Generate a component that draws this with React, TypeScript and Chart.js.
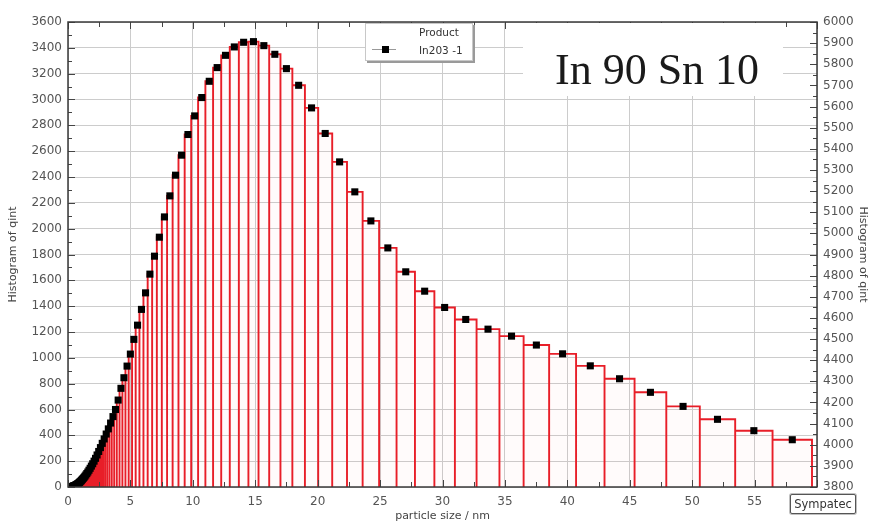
import React, { useEffect, useRef } from 'react';
import { Chart, registerables } from 'chart.js';

Chart.register(...registerables);

// Bin edges (nm) (geometric spacing)
const binEdges: number[] = [
  0.302, 0.319, 0.336, 0.355, 0.375, 0.396, 0.419, 0.442, 0.467, 0.493,
  0.521, 0.550, 0.580, 0.613, 0.647, 0.684, 0.722, 0.762, 0.805, 0.850,
  0.898, 0.948, 1.001, 1.057, 1.116, 1.179, 1.245, 1.314, 1.388, 1.466,
  1.548, 1.634, 1.726, 1.822, 1.924, 2.032, 2.146, 2.266, 2.393, 2.527,
  2.669, 2.818, 2.976, 3.143, 3.319, 3.505, 3.701, 3.908, 4.127, 4.358,
  4.602, 4.860, 5.132, 5.420, 5.723, 6.044, 6.382, 6.740, 7.117, 7.516,
  7.937, 8.381, 8.850, 9.346, 9.869, 10.422, 11.006, 11.622, 12.273, 12.960,
  13.686, 14.453, 15.262, 16.117, 17.020, 17.973, 18.979, 20.042, 21.165, 22.350,
  23.602, 24.923, 26.319, 27.793, 29.350, 30.993, 32.729, 34.562, 36.498, 38.542,
  40.700, 42.979, 45.386, 47.928, 50.612, 53.446, 56.439, 59.6,
];

// Histogram of q_int per bin (left axis)
const binValues: number[] = [
  2, 3, 3, 4, 4, 5, 6, 7, 8, 9,
  10, 11, 13, 15, 17, 19, 22, 25, 28, 32,
  36, 41, 46, 52, 59, 66, 74, 83, 93, 104,
  116, 130, 145, 162, 180, 200, 222, 248, 275, 305,
  338, 372, 410, 450, 495, 545, 600,
  673, 764, 846, 936, 1029, 1143, 1253, 1375, 1503, 1648,
  1787, 1934, 2091, 2254, 2414, 2569, 2729, 2873, 3015, 3141,
  3247, 3342, 3407, 3443, 3448, 3417, 3350, 3239, 3110, 2935,
  2737, 2517, 2285, 2060, 1851, 1666, 1516, 1390, 1297, 1222,
  1168, 1099, 1031, 938, 838, 733, 624, 524, 436, 366,
];

const xMin = 0, xMax = 60, xStep = 5, xMinorStep = 2.5;
const yMin = 0, yMax = 3600, yStep = 200, yMinorStep = 100;
const y2Min = 3800, y2Max = 6000, y2Step = 100, y2MinorStep = 50;

const seriesName = 'In203 -1';
const legendTitle = 'Product';
const annotationText = 'In 90 Sn 10';
const xTitle = 'particle size / nm';
const yTitle = 'Histogram of qint';

const tickFont = { family: 'DejaVu Sans', size: 12 };
const titleFont = { family: 'DejaVu Sans', size: 11 };
const plain = (v: any) => String(v);

const framePlugin = {
  id: 'frameTicks',
  afterDatasetsDraw(chart: any) {
    const { ctx, chartArea: a, scales } = chart;
    const xs = scales.x, yl = scales.y, yr = scales.y2;
    ctx.save();
    ctx.strokeStyle = '#444';
    ctx.lineWidth = 1;
    ctx.beginPath();
    for (let v = yMin; v <= yMax + 1e-6; v += yMinorStep) {
      const p = Math.round(yl.getPixelForValue(v)) + 0.5;
      const L = Math.abs(v % yStep) < 1e-6 ? 7 : 4;
      ctx.moveTo(a.left, p); ctx.lineTo(a.left + L, p);
    }
    for (let v = y2Min; v <= y2Max + 1e-6; v += y2MinorStep) {
      const p = Math.round(yr.getPixelForValue(v)) + 0.5;
      const L = Math.abs(v % y2Step) < 1e-6 ? 7 : 4;
      ctx.moveTo(a.right, p); ctx.lineTo(a.right - L, p);
    }
    for (let v = xMin; v <= xMax + 1e-6; v += xMinorStep) {
      const p = Math.round(xs.getPixelForValue(v)) + 0.5;
      const L = Math.abs(v % xStep) < 1e-6 ? 7 : 5;
      ctx.moveTo(p, a.bottom); ctx.lineTo(p, a.bottom - L);
      ctx.moveTo(p, a.top); ctx.lineTo(p, a.top + L);
    }
    ctx.stroke();
    ctx.lineWidth = 1.5;
    ctx.strokeStyle = '#3a3a3a';
    ctx.strokeRect(a.left, a.top, a.right - a.left, a.bottom - a.top);
    ctx.restore();
  },
};

export default function App() {
  const canvasRef = useRef<HTMLCanvasElement | null>(null);

  useEffect(() => {
    document.body.style.margin = '0';
    const canvas = canvasRef.current;
    if (!canvas) return;

    const n = Math.min(binValues.length, binEdges.length - 1);
    const outline: { x: number; y: number }[] = [];
    const points: { x: number; y: number }[] = [];
    for (let i = 0; i < n; i++) {
      const l = binEdges[i], r = binEdges[i + 1], v = binValues[i];
      outline.push({ x: l, y: 0 }, { x: l, y: v }, { x: r, y: v }, { x: r, y: 0 });
      points.push({ x: (l + r) / 2, y: v });
    }

    const chart = new Chart(canvas, {
      type: 'scatter',
      data: {
        datasets: [
          {
            label: seriesName,
            data: points,
            pointStyle: 'rect',
            pointRadius: 5,
            pointBackgroundColor: '#000',
            pointBorderColor: '#000',
            pointBorderWidth: 0,
            showLine: false,
            order: 1,
            xAxisID: 'x',
            yAxisID: 'y',
          } as any,
          {
            label: 'bars',
            data: outline,
            showLine: true,
            borderColor: 'rgb(232,30,40)',
            borderWidth: 1.9,
            backgroundColor: 'rgba(255,80,80,0.025)',
            fill: 'origin',
            pointRadius: 0,
            tension: 0,
            order: 2,
            xAxisID: 'x',
            yAxisID: 'y',
          } as any,
        ],
      },
      options: {
        responsive: false,
        animation: false,
        events: [],
        devicePixelRatio: 1,
        layout: { padding: { top: 22, left: 0, right: 0, bottom: 0 } },
        plugins: {
          legend: { display: false },
          tooltip: { enabled: false },
        },
        scales: {
          x: {
            type: 'linear',
            position: 'bottom',
            min: xMin,
            max: xMax,
            ticks: { stepSize: xStep, color: '#555', font: tickFont, padding: 8, maxRotation: 0, autoSkip: false, callback: plain },
            grid: { color: '#cccccc', drawTicks: false, lineWidth: 1 },
            border: { display: false },
            title: { display: true, text: xTitle, color: '#444', font: titleFont, padding: { top: 0, bottom: 0 } },
            afterFit: (s: any) => { s.height = 36; },
          },
          y: {
            type: 'linear',
            position: 'left',
            min: yMin,
            max: yMax,
            ticks: { stepSize: yStep, color: '#555', font: tickFont, padding: 6, autoSkip: false, callback: plain },
            grid: { color: '#cccccc', drawTicks: false, lineWidth: 1 },
            border: { display: false },
            title: { display: true, text: yTitle, color: '#444', font: titleFont, padding: { top: 7, bottom: 0 } },
            afterFit: (s: any) => { s.width = 68; },
          },
          y2: {
            type: 'linear',
            position: 'right',
            min: y2Min,
            max: y2Max,
            ticks: { stepSize: y2Step, color: '#555', font: tickFont, padding: 6, autoSkip: false, callback: plain },
            grid: { display: false, drawOnChartArea: false, drawTicks: false },
            border: { display: false },
            title: { display: true, text: yTitle, color: '#444', font: titleFont, padding: { top: 3, bottom: 0 } },
            afterFit: (s: any) => { s.width = 55; },
          },
        },
      } as any,
      plugins: [framePlugin],
    });

    return () => chart.destroy();
  }, []);

  return (
    <div style={{ position: 'fixed', left: 0, top: 0, width: 872, height: 523, background: '#fff', overflow: 'hidden' }}>
      <canvas ref={canvasRef} width={872} height={523} style={{ display: 'block' }} />
      {/* legend box */}
      <div
        style={{
          position: 'absolute', left: 365, top: 23, width: 106, height: 36,
          background: '#fff', border: '1px solid #c8c8c8', boxShadow: '2px 2px 0 #9a9a9a',
          fontFamily: 'DejaVu Sans', fontSize: 10.5, color: '#333',
        }}
      >
        <span style={{ position: 'absolute', left: 53, top: 2, lineHeight: '13px' }}>{legendTitle}</span>
        <span style={{ position: 'absolute', left: 6, top: 25, width: 24, height: 1, background: '#999' }} />
        <span style={{ position: 'absolute', left: 16, top: 22, width: 7, height: 7, background: '#000' }} />
        <span style={{ position: 'absolute', left: 53, top: 20, lineHeight: '13px' }}>{seriesName}</span>
      </div>
      {/* annotation */}
      <div
        style={{
          position: 'absolute', left: 523, top: 23, width: 260, height: 73, background: '#fff',
        }}
      >
        <span
          style={{
            position: 'absolute', left: 32, top: 25, fontFamily: '"Liberation Serif", serif',
            fontSize: 44, lineHeight: '44px', color: '#1a1a1a', whiteSpace: 'nowrap',
          }}
        >
          {annotationText}
        </span>
      </div>
      {/* Sympatec label */}
      <div
        style={{
          position: 'absolute', left: 790, top: 494, width: 64, height: 18, background: '#fff',
          border: '1px solid #555', boxShadow: '0 0 0 1px #c0c0c0', borderRadius: 2,
          fontFamily: 'DejaVu Sans', fontSize: 11.5, color: '#333', lineHeight: '18px', textAlign: 'center',
        }}
      >
        Sympatec
      </div>
    </div>
  );
}
